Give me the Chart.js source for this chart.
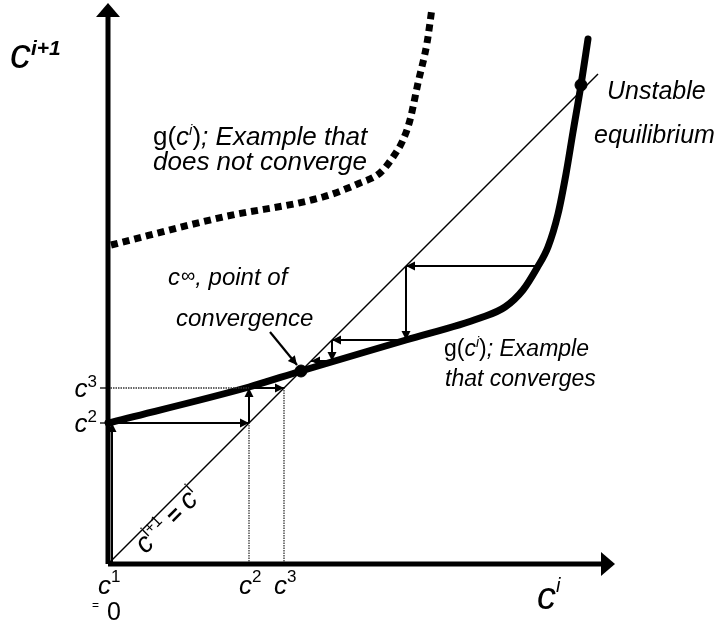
<!DOCTYPE html>
<html><head><meta charset="utf-8">
<script src="https://cdn.jsdelivr.net/npm/chart.js@4/dist/chart.umd.min.js"></script>
<style>html,body{margin:0;padding:0;background:#fff}#wrap{width:721px;height:627px}</style>
</head><body><div id="wrap"><canvas id="c" width="721" height="627"></canvas></div>
<script>
// ---- data ----
const gConvX = [0, 141, 193, 298, 372, 397, 415, 429, 440, 450, 458, 465, 473, 480];
const gConvY = [141, 177, 193, 224, 246, 257, 274, 296, 317, 350, 390, 432, 479, 525];
const gDivX = [3, 115, 215, 252, 272, 285, 295, 302, 310, 319, 324];
const gDivY = [319, 347, 367, 381, 391, 407, 424, 444, 481, 521, 556];
const leftIter = [0, 141, 176];          // c1, c2, c3
const rightIter = [429, 298, 224, 203];  // iterates from the right
const fixedPoint = [193, 193];
const unstablePoint = [473, 479];
const diagEnd = 490;
const xAxisEnd = 507, yAxisEnd = 561;
const xTickValues = [0, 141, 176];
const xTickSups = ['1', '2', '3'];
const yTickValues = [141, 176];
const yTickSups = ['2', '3'];

const FF = '"Liberation Sans", Arial, sans-serif';
const pts = (xs, ys) => xs.map((x, i) => ({x, y: ys[i]}));
const seg = (x1, y1, x2, y2) => [{x: x1, y: y1}, {x: x2, y: y2}];

const datasets = [];
function line(data, opt) {
  datasets.push(Object.assign({data, borderColor: '#000', backgroundColor: '#000', borderWidth: 2,
    pointRadius: 0, fill: false, tension: 0, clip: false}, opt));
}
// axes
line(seg(0, 0, 0, yAxisEnd - 12), {borderWidth: 5, head: {tip: [0, yAxisEnd], len: 14, hw: 12}});
line(seg(0, 0, xAxisEnd - 12, 0), {borderWidth: 5, head: {tip: [xAxisEnd, 0], len: 14, hw: 12}});
// diagonal
line(seg(0, 0, diagEnd, diagEnd), {borderWidth: 1.4});
// dotted guides
line(seg(leftIter[1], 0, leftIter[1], leftIter[1]), {borderWidth: 1.3, borderDash: [1.5, 1], borderColor: '#333'});
line(seg(leftIter[2], 0, leftIter[2], leftIter[2]), {borderWidth: 1.3, borderDash: [1.5, 1], borderColor: '#333'});
line(seg(0, leftIter[2], leftIter[1], leftIter[2]), {borderWidth: 1.3, borderDash: [1.5, 1], borderColor: '#333'});
// y tick marks
yTickValues.forEach(v => line(seg(-8, v, 0, v), {borderWidth: 1.3}));
// converging g
line(pts(gConvX, gConvY), {borderWidth: 7, cubicInterpolationMode: 'monotone', borderCapStyle: 'round'});
// diverging g
line(pts(gDivX, gDivY), {borderWidth: 7, borderDash: [7, 5], cubicInterpolationMode: 'monotone'});
// left staircase
line(seg(4, 0, 4, leftIter[1]), {borderWidth: 2, arrow: true});
line(seg(0, leftIter[1], leftIter[1], leftIter[1]), {arrow: true});
line(seg(leftIter[1], leftIter[1], leftIter[1], leftIter[2]), {arrow: true});
line(seg(leftIter[1], leftIter[2], leftIter[2], leftIter[2]), {arrow: true});
// right staircase
for (let i = 1; i < rightIter.length; i++) {
  const a = rightIter[i - 1], b = rightIter[i];
  line(seg(a, b, b, b), {arrow: true});
  if (i + 1 < rightIter.length) line(seg(b, b, b, rightIter[i + 1]), {arrow: true});
}
// pointer to fixed point
line(seg(162, 232, 189, 199), {borderWidth: 2.2, arrow: true});
// dots
datasets.push({type: 'scatter', data: [{x: fixedPoint[0], y: fixedPoint[1]}, {x: unstablePoint[0], y: unstablePoint[1]}],
  pointRadius: 6, backgroundColor: '#000', borderColor: '#000', clip: false});

const annot = {
  id: 'annot',
  afterDatasetsDraw(chart) {
    const ctx = chart.ctx, xs = chart.scales.x, ys = chart.scales.y;
    const P = (x, y) => [xs.getPixelForValue(x), ys.getPixelForValue(y)];
    ctx.save();
    ctx.fillStyle = '#000';
    // arrowheads
    chart.data.datasets.forEach((ds, i) => {
      if (!ds.arrow && !ds.head) return;
      const d = ds.data, n = d.length;
      let tip, from, len = 9, hw = 4.5;
      if (ds.head) { tip = P(ds.head.tip[0], ds.head.tip[1]); from = P(d[0].x, d[0].y); len = ds.head.len; hw = ds.head.hw; }
      else { tip = P(d[n - 1].x, d[n - 1].y); from = P(d[n - 2].x, d[n - 2].y); }
      const ang = Math.atan2(tip[1] - from[1], tip[0] - from[0]);
      ctx.save(); ctx.translate(tip[0], tip[1]); ctx.rotate(ang);
      ctx.beginPath(); ctx.moveTo(0, 0); ctx.lineTo(-len, -hw); ctx.lineTo(-len, hw); ctx.closePath(); ctx.fill();
      ctx.restore();
    });
    function rich(x, y, parts, align) {
      let w = 0;
      parts.forEach(p => { ctx.font = p.f; w += ctx.measureText(p.t).width + (p.k || 0); });
      if (align === 'right') x -= w;
      if (align === 'center') x -= w / 2;
      ctx.textBaseline = 'alphabetic'; ctx.textAlign = 'left';
      parts.forEach(p => { ctx.font = p.f; ctx.fillText(p.t, x, y + (p.dy || 0)); x += ctx.measureText(p.t).width + (p.k || 0); });
    }
    const IT = s => 'italic ' + s + 'px ' + FF, NO = s => s + 'px ' + FF, BI = s => 'italic bold ' + s + 'px ' + FF;
    let p;
    // axis titles
    p = P(-98, 496); rich(p[0], p[1], [{t: 'c', f: IT(42)}, {t: 'i+1', f: BI(21), dy: -13}]);
    p = P(429, -45); rich(p[0], p[1], [{t: 'c', f: IT(38)}, {t: 'i', f: IT(20), dy: -17}]);
    // tick labels
    yTickValues.forEach((v, i) => { p = P(-11, v); rich(p[0], p[1] + 9, [{t: 'c', f: IT(26)}, {t: yTickSups[i], f: NO(17), dy: -10}], 'right'); });
    xTickValues.forEach((v, i) => { p = P(v, 0); rich(p[0] - 10, p[1] + 30, [{t: 'c', f: IT(26)}, {t: xTickSups[i], f: NO(17), dy: -12}]); });
    p = P(0, 0); rich(p[0] - 16, p[1] + 56, [{t: '=', f: NO(12), dy: -11, k: 8}, {t: '0', f: NO(25)}]);
    // text labels
    const F1 = 26, F2 = 24, F3 = 23, F4 = 25;
    p = P(45, 419); rich(p[0], p[1], [{t: 'g(', f: NO(F1)}, {t: 'c', f: IT(F1)}, {t: 'i', f: IT(15), dy: -10}, {t: ')', f: NO(F1)}, {t: '; Example that', f: IT(F1)}]);
    p = P(45, 394); rich(p[0], p[1], [{t: 'does not converge', f: IT(F1)}]);
    p = P(60, 279); rich(p[0], p[1], [{t: 'c', f: IT(F2), k: 1}, {t: '∞', f: NO(20), dy: -3}, {t: ', point of', f: IT(F2)}]);
    p = P(68, 238); rich(p[0], p[1], [{t: 'convergence', f: IT(F2)}]);
    p = P(336, 208); rich(p[0], p[1], [{t: 'g(', f: NO(F3)}, {t: 'c', f: IT(F3)}, {t: 'i', f: IT(14), dy: -9}, {t: ')', f: NO(F3)}, {t: '; Example', f: IT(F3)}]);
    p = P(337, 178); rich(p[0], p[1], [{t: 'that converges', f: IT(F3)}]);
    p = P(499, 465); rich(p[0], p[1], [{t: 'Unstable', f: IT(F4)}]);
    p = P(486, 421); rich(p[0], p[1], [{t: 'equilibrium', f: IT(F4)}]);
    // diagonal label
    const s = 33 / Math.SQRT2; p = P(s, s);
    ctx.save(); ctx.translate(p[0], p[1]); ctx.rotate(-Math.PI / 4);
    rich(0, 20, [{t: 'c', f: IT(28)}, {t: 'i+1', f: NO(16), dy: -11}, {t: ' = ', f: 'bold 23px ' + FF}, {t: 'c', f: IT(28)}, {t: 'i', f: NO(16), dy: -11}]);
    ctx.restore();
    ctx.restore();
  }
};

new Chart(document.getElementById('c'), {
  type: 'line',
  data: {datasets},
  options: {
    responsive: false, animation: false, devicePixelRatio: 1,
    layout: {padding: 0, autoPadding: false},
    plugins: {legend: {display: false}, tooltip: {enabled: false}},
    scales: {
      x: {type: 'linear', min: -108, max: 613, display: false},
      y: {type: 'linear', min: -63, max: 564, display: false}
    }
  },
  plugins: [annot]
});
</script></body></html>
